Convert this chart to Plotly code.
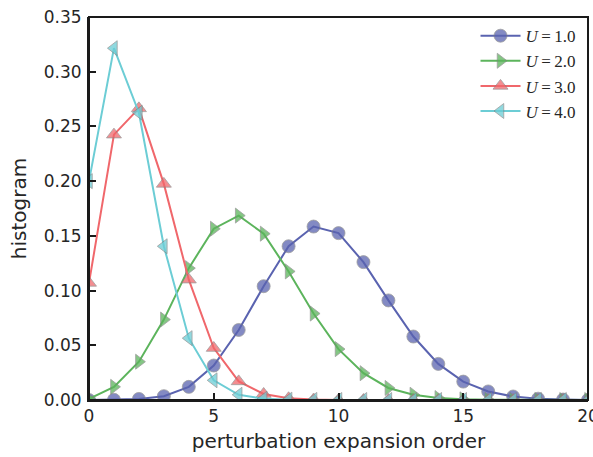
import plotly.graph_objects as go

orders = list(range(0, 21))

hist_u1 = [0.0000, 0.0002, 0.0010, 0.0035, 0.0120, 0.0315, 0.0640, 0.1040, 0.1405, 0.1585,
           0.1525, 0.1260, 0.0910, 0.0580, 0.0330, 0.0168, 0.0078, 0.0032, 0.0012, 0.0004, 0.0001]
hist_u2 = [0.0010, 0.0120, 0.0350, 0.0735, 0.1205, 0.1565, 0.1685, 0.1520, 0.1175, 0.0790,
           0.0465, 0.0245, 0.0110, 0.0048, 0.0018, 0.0006, 0.0002, 0.0001, 0.0000, 0.0000, 0.0000]
hist_u3 = [0.1070, 0.2425, 0.2665, 0.1975, 0.1100, 0.0475, 0.0170, 0.0055, 0.0016, 0.0004,
           0.0001, 0.0000, 0.0000, 0.0000, 0.0000, 0.0000, 0.0000, 0.0000, 0.0000, 0.0000, 0.0000]
hist_u4 = [0.2000, 0.3215, 0.2625, 0.1405, 0.0565, 0.0180, 0.0048, 0.0012, 0.0003, 0.0001,
           0.0000, 0.0000, 0.0000, 0.0000, 0.0000, 0.0000, 0.0000, 0.0000, 0.0000, 0.0000, 0.0000]

series = [
    ("<i>U</i>\u2009=\u20091.0", hist_u1, "#5a63b0", "circle"),
    ("<i>U</i>\u2009=\u20092.0", hist_u2, "#5cb45c", "triangle-right"),
    ("<i>U</i>\u2009=\u20093.0", hist_u3, "#f0676b", "triangle-up"),
    ("<i>U</i>\u2009=\u20094.0", hist_u4, "#6ccdd5", "triangle-left"),
]

X_RANGE = [0, 20]
Y_RANGE = [0, 0.35]

fig = go.Figure()
for name, ys, col, sym in series:
    fig.add_trace(go.Scatter(
        x=orders, y=ys, name=name, mode="lines+markers",
        line=dict(color=col, width=2),
        marker=dict(symbol=sym, size=13, color=col, opacity=0.75,
                    line=dict(color="rgba(128,128,128,0.8)", width=1)),
        cliponaxis=True,
    ))

tick_style = dict(
    showline=True, linecolor="#1a1a1a", linewidth=2,
    ticks="inside", ticklen=7, tickwidth=2, tickcolor="#1a1a1a",
    showgrid=False, zeroline=False,
    tickfont=dict(family="DejaVu Sans", size=17, color="#262626"),
)
title_font = dict(family="DejaVu Sans", size=20, color="#262626")

fig.update_layout(
    width=593, height=457,
    margin=dict(l=89, r=5, t=17, b=57, autoexpand=False),
    paper_bgcolor="white", plot_bgcolor="white",
    xaxis=dict(range=X_RANGE, dtick=5, tick0=0, ticklabeloverflow="allow",
               title=dict(text="perturbation expansion order", font=title_font, standoff=9),
               **tick_style),
    yaxis=dict(range=Y_RANGE, dtick=0.05, tick0=0, tickformat=".2f", ticklabelstandoff=2,
               title=dict(text="histogram", font=title_font, standoff=12),
               **tick_style),
    xaxis2=dict(range=X_RANGE, dtick=5, tick0=0, overlaying="x", side="top",
                showticklabels=False, **tick_style),
    yaxis2=dict(range=Y_RANGE, dtick=0.05, tick0=0, overlaying="y", side="right",
                showticklabels=False, **tick_style),
    legend=dict(x=0.985, y=0.997, xanchor="right", yanchor="top",
                bgcolor="rgba(0,0,0,0)", borderwidth=0,
                font=dict(family="Liberation Serif", size=17, color="#262626"),
                itemwidth=40, tracegroupgap=0),
)
fig.add_shape(type="rect", xref="paper", yref="paper", x0=0, x1=1, y0=0, y1=1,
              line=dict(color="#1a1a1a", width=2), layer="above")

fig.write_html("out.html", config={"displayModeBar": False})

with open("out.html", "r", encoding="utf-8") as f:
    html = f.read()
html = html.replace("<body>", "<body style=\"margin:0;padding:0;overflow:hidden;\">", 1)
with open("out.html", "w", encoding="utf-8") as f:
    f.write(html)
